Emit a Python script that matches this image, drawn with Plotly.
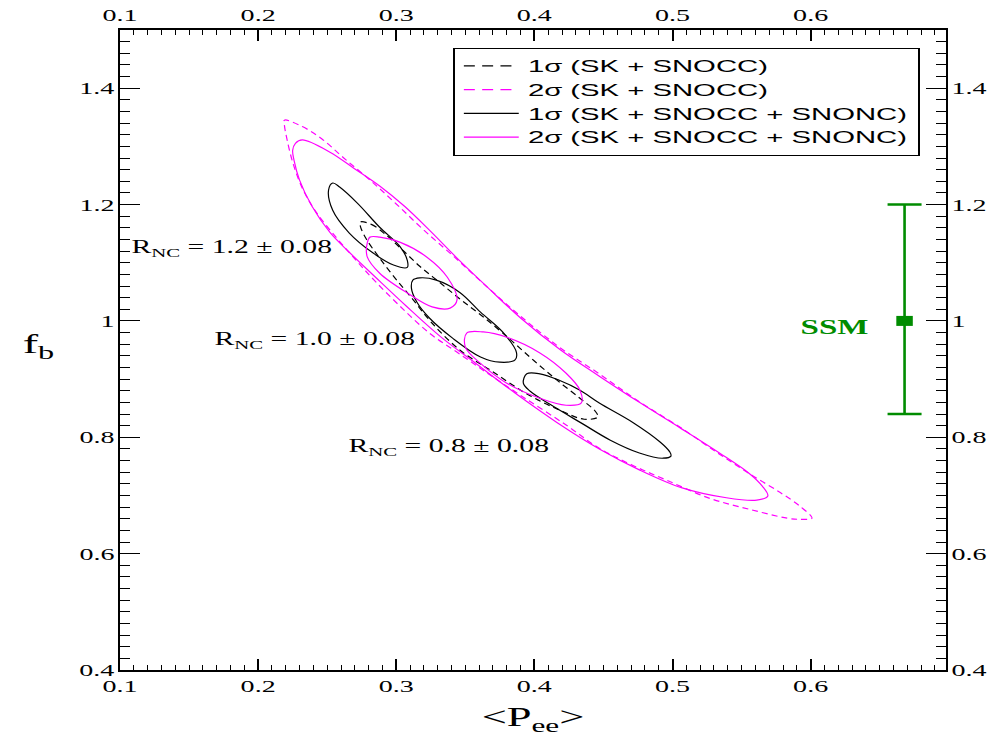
import plotly.graph_objects as go

# Allowed regions in the (<Pee>, f_b) plane, traced as closed curves.
# 2 sigma, SK + SNO CC
cc_2sig = [(0.219, 1.345), (0.232, 1.334), (0.246, 1.313), (0.262, 1.280), (0.281, 1.242),
           (0.300, 1.201), (0.320, 1.156), (0.342, 1.110), (0.365, 1.060), (0.389, 1.010),
           (0.418, 0.955), (0.447, 0.909), (0.476, 0.861), (0.505, 0.818), (0.534, 0.771),
           (0.558, 0.734), (0.578, 0.705), (0.592, 0.682), (0.601, 0.661), (0.592, 0.659),
           (0.583, 0.661), (0.556, 0.676), (0.527, 0.695), (0.496, 0.726), (0.471, 0.752),
           (0.447, 0.781), (0.423, 0.821), (0.392, 0.869), (0.368, 0.907), (0.346, 0.943),
           (0.324, 0.979), (0.302, 1.027), (0.284, 1.070), (0.271, 1.104), (0.257, 1.142),
           (0.242, 1.187), (0.232, 1.228), (0.225, 1.273), (0.221, 1.311), (0.219, 1.337)]

# 1 sigma, SK + SNO CC
cc_1sig = [(0.274, 1.170), (0.282, 1.166), (0.292, 1.149), (0.304, 1.123), (0.317, 1.094),
           (0.332, 1.065), (0.347, 1.036), (0.364, 1.005), (0.382, 0.969), (0.400, 0.931),
           (0.417, 0.897), (0.433, 0.867), (0.444, 0.845), (0.446, 0.835), (0.436, 0.831),
           (0.418, 0.847), (0.395, 0.874), (0.369, 0.914), (0.346, 0.950), (0.326, 0.996),
           (0.312, 1.037), (0.299, 1.074), (0.287, 1.111), (0.278, 1.142), (0.274, 1.163)]

# 2 sigma, SK + SNO CC + SNO NC (outer region and the two inner islands)
nc_2sig_outer = [(0.232, 1.311), (0.252, 1.290), (0.269, 1.263), (0.288, 1.232), (0.306, 1.197),
                 (0.324, 1.156), (0.344, 1.108), (0.366, 1.058), (0.390, 1.005), (0.419, 0.950),
                 (0.447, 0.905), (0.476, 0.860), (0.505, 0.817), (0.534, 0.773), (0.556, 0.737),
                 (0.565, 0.716), (0.569, 0.699), (0.561, 0.692), (0.539, 0.696), (0.507, 0.713),
                 (0.476, 0.744), (0.447, 0.780), (0.416, 0.826), (0.386, 0.876), (0.357, 0.928),
                 (0.332, 0.973), (0.307, 1.026), (0.285, 1.075), (0.266, 1.118), (0.252, 1.152),
                 (0.239, 1.197), (0.230, 1.242), (0.226, 1.276), (0.225, 1.293), (0.227, 1.305)]
nc_2sig_a = [(0.279, 1.134), (0.281, 1.144), (0.288, 1.144), (0.303, 1.135), (0.322, 1.110),
             (0.337, 1.075), (0.344, 1.036), (0.339, 1.022), (0.326, 1.024), (0.308, 1.048),
             (0.288, 1.082), (0.279, 1.110)]
nc_2sig_b = [(0.350, 0.955), (0.351, 0.979), (0.363, 0.981), (0.380, 0.972), (0.404, 0.945),
             (0.423, 0.910), (0.433, 0.881), (0.434, 0.859), (0.423, 0.855), (0.404, 0.867),
             (0.380, 0.893), (0.361, 0.927)]

# 1 sigma, SK + SNO CC + SNO NC for R_NC = 1.2, 1.0, 0.8
nc_1sig_12 = [(0.254, 1.237), (0.259, 1.230), (0.272, 1.202), (0.288, 1.161), (0.303, 1.127),
              (0.308, 1.104), (0.308, 1.092), (0.298, 1.096), (0.283, 1.117), (0.266, 1.151),
              (0.254, 1.190), (0.251, 1.225)]
nc_1sig_10 = [(0.312, 1.070), (0.317, 1.074), (0.329, 1.070), (0.346, 1.049), (0.361, 1.015),
              (0.377, 0.981), (0.387, 0.946), (0.386, 0.933), (0.375, 0.929), (0.361, 0.938),
              (0.341, 0.970), (0.324, 1.005), (0.315, 1.032), (0.311, 1.056)]
nc_1sig_08 = [(0.3945, 0.909), (0.404, 0.909), (0.418, 0.898), (0.433, 0.881), (0.447, 0.859),
              (0.471, 0.826), (0.491, 0.792), (0.498, 0.775), (0.499, 0.768), (0.493, 0.764),
              (0.476, 0.773), (0.455, 0.795), (0.435, 0.823), (0.411, 0.857), (0.397, 0.879),
              (0.392, 0.893)]

# Standard solar model point
ssm_pee = [0.668]
ssm_fb = [1.0]
ssm_err_up = [0.20]
ssm_err_down = [0.16]

# R_NC labels: (text, <Pee>, f_b)
rnc_labels = [("R<sub>NC</sub> = 1.2 ± 0.08", 0.181, 1.124),
              ("R<sub>NC</sub> = 1.0 ± 0.08", 0.2411, 0.966),
              ("R<sub>NC</sub> = 0.8 ± 0.08", 0.338, 0.783)]

x_ticks = [0.1, 0.2, 0.3, 0.4, 0.5, 0.6]
y_ticks = [0.4, 0.6, 0.8, 1.0, 1.2, 1.4]
y_ticktext = ["0.4", "0.6", "0.8", "1", "1.2", "1.4"]


def rings(*curves):
    """Concatenate closed curves into one x/y pair separated by gaps."""
    xs, ys = [], []
    for c in curves:
        pts = list(c) + [c[0]]
        xs += [p[0] for p in pts] + [None]
        ys += [p[1] for p in pts] + [None]
    return xs, ys


MAGENTA = "#ff00ff"
GREEN = "#008c00"
SERIF = "Liberation Serif"

fig = go.Figure()

series = [
    ("1σ (SK + SNOCC)", [cc_1sig], "black", "6px,4px"),
    ("2σ (SK + SNOCC)", [cc_2sig], MAGENTA, "6px,4px"),
    ("1σ (SK + SNOCC + SNONC)", [nc_1sig_12, nc_1sig_10, nc_1sig_08], "black", "solid"),
    ("2σ (SK + SNOCC + SNONC)", [nc_2sig_outer, nc_2sig_a, nc_2sig_b], MAGENTA, "solid"),
]
for name, curves, color, dash in series:
    xs, ys = rings(*curves)
    fig.add_trace(go.Scatter(
        x=xs, y=ys, mode="lines", name=name, connectgaps=False,
        line=dict(color=color, width=1.2, dash=dash, shape="spline", smoothing=1.0),
    ))

fig.add_trace(go.Scatter(
    x=ssm_pee, y=ssm_fb, mode="markers", showlegend=False,
    marker=dict(symbol="square", size=10, color=GREEN),
    error_y=dict(type="data", symmetric=False, array=ssm_err_up, arrayminus=ssm_err_down,
                 color=GREEN, thickness=2.6, width=17),
))

# mirrored axes carrying labels on the top and right
fig.add_trace(go.Scatter(x=[None], y=[None], xaxis="x2", yaxis="y2",
                         showlegend=False, hoverinfo="skip"))

tick_font = dict(family=SERIF, size=17, color="black")
x_common = dict(range=[0.1, 0.698], tickmode="array", tickvals=x_ticks,
                ticks="inside", ticklen=11, tickwidth=1.6, tickcolor="black",
                minor=dict(dtick=0.01, tick0=0.1, ticks="inside", ticklen=5,
                           tickwidth=1.2, tickcolor="black"),
                showline=True, linewidth=2, linecolor="black", showgrid=False,
                zeroline=False, tickfont=tick_font, automargin=False)
y_common = dict(range=[0.4, 1.5], tickmode="array", tickvals=y_ticks,
                ticktext=y_ticktext,
                ticks="inside", ticklen=20, tickwidth=1.1, tickcolor="black",
                minor=dict(dtick=0.02, tick0=0.4, ticks="inside", ticklen=10,
                           tickwidth=1.0, tickcolor="black"),
                showline=True, linewidth=2, linecolor="black", showgrid=False,
                zeroline=False, tickfont=tick_font, automargin=False)

fig.update_layout(
    width=998, height=745,
    margin=dict(l=120, r=52, t=30, b=75, autoexpand=False),
    paper_bgcolor="white", plot_bgcolor="white",
    xaxis=dict(**x_common, side="bottom",
               title=dict(text="&lt;P<sub>ee</sub>&gt;", standoff=12,
                          font=dict(family=SERIF, size=27, color="black"))),
    yaxis=dict(**y_common, side="left"),
    xaxis2=dict(**x_common, side="top", overlaying="x", anchor="y"),
    yaxis2=dict(**y_common, side="right", overlaying="y", anchor="x"),
    legend=dict(x=0.403, y=0.972, xanchor="left", yanchor="top",
                bgcolor="white", bordercolor="black", borderwidth=1,
                font=dict(family="Liberation Sans", size=16, color="black"),
                tracegroupgap=0, itemwidth=30),
    showlegend=True,
)

# upright f_b label left of the frame
fig.add_annotation(x=-0.099, y=0.507, xref="paper", yref="paper", text="f<sub>b</sub>",
                   showarrow=False, xanchor="center", yanchor="middle",
                   font=dict(family=SERIF, size=28, color="black"))

for text, xv, yv in rnc_labels:
    fig.add_annotation(x=xv, y=yv, text=text, showarrow=False, xanchor="center",
                       yanchor="middle", font=dict(family=SERIF, size=18, color="black"))

fig.add_annotation(x=0.617, y=0.990, text="<b>SSM</b>", showarrow=False,
                   xanchor="center", yanchor="middle",
                   font=dict(family=SERIF, size=20, color=GREEN))

# The figure's lettering and legend are set wide (horizontal stretch).
post = """
var gd = document.getElementById('{plot_id}');
var S = 1.65, SL = 1.83;
var svg = gd.querySelector('svg.main-svg');
function widen(el, sx) {
  var P = el.parentNode.getScreenCTM();
  var T = svg.createSVGMatrix().translate(sx, 0).scaleNonUniform(S, 1).translate(-sx, 0);
  var M = P.inverse().multiply(T).multiply(P);
  var old = el.getAttribute('transform') || '';
  el.setAttribute('transform', 'matrix(' + [M.a, M.b, M.c, M.d, M.e, M.f].join(',') + ') ' + old);
}
gd.querySelectorAll('text').forEach(function (t) {
  if (!t.textContent.trim()) { t.parentNode.removeChild(t); return; }
  if (t.closest('.legend')) return;
  var r = t.getBoundingClientRect();
  if (!r.width) return;
  var a = t.getAttribute('text-anchor') || 'start';
  var rot = (t.getAttribute('transform') || '').indexOf('rotate') >= 0;
  var sx = r.left + r.width / 2;
  if (!rot && a === 'end') sx = r.right;
  if (!rot && a === 'start') sx = r.left;
  widen(t, sx);
});
gd.querySelectorAll('.scatterlayer path.point').forEach(function (p) {
  var r = p.getBoundingClientRect();
  widen(p, r.left + r.width / 2);
});
var lg = gd.querySelector('g.legend');
if (lg) lg.setAttribute('transform', (lg.getAttribute('transform') || '') + ' scale(' + SL + ',1)');
"""

fig.write_html("out.html", post_script=post)
